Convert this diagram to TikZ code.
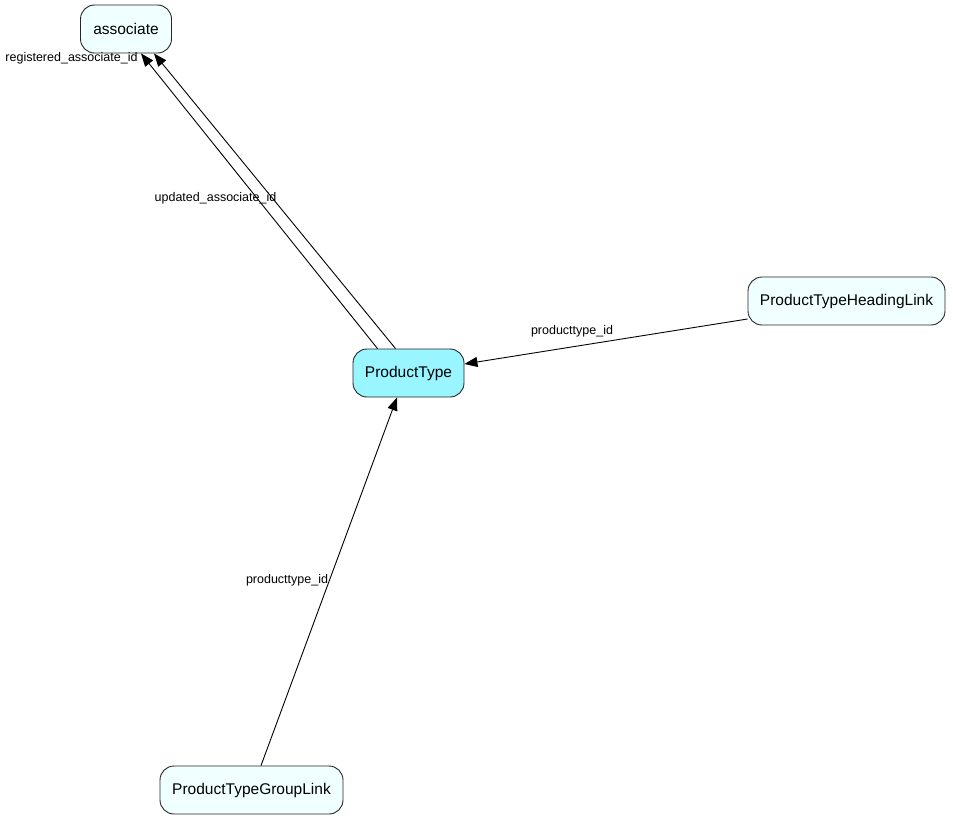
\documentclass[tikz,border=0pt]{standalone}
\usepackage{fontspec}
\setmainfont{Liberation Sans}
\usetikzlibrary{arrows.meta}
\definecolor{entfill}{HTML}{F0FFFF}
\definecolor{mainfill}{HTML}{99F5FF}
\begin{document}
\begin{tikzpicture}[x=1pt,y=-1pt,
  entity/.style={draw=black!85, line width=0.9pt, rounded corners=14pt, fill=entfill,
    minimum height=48pt, inner sep=0pt, font=\fontsize{15.5}{17}\selectfont},
  mainent/.style={entity, fill=mainfill},
  lbl/.style={inner sep=0pt, font=\fontsize{12.5}{14}\selectfont},
  fk/.style={draw=black, line width=0.9pt, -{Triangle[length=13pt,width=10pt]}}]
\useasboundingbox[fill=white] (0,0) rectangle (953,819);
\node[entity, minimum width=91pt] (assoc) at (126,29) {associate};
\node[mainent, minimum width=111pt] (pt) at (408.5,373) {ProductType};
\node[entity, minimum width=197pt] (ptl) at (846.5,301) {ProductTypeHeadingLink};
\node[entity, minimum width=183pt] (ptg) at (251.5,790) {ProductTypeGroupLink};
\draw[fk] ([xshift=-31pt]pt.north) -- ([xshift=15pt]assoc.south);
\draw[fk] ([xshift=-13pt]pt.north) -- ([xshift=28pt]assoc.south);
\draw[fk] ([yshift=-18pt]ptl.west) -- ([yshift=9pt]pt.east);
\draw[fk] ([xshift=9.5pt]ptg.north) -- ([xshift=-11.5pt]pt.south);
\node[lbl] (l1) at (71.5,58) {registered\_associate\_id};
\node[lbl] (l2) at (215.5,198) {updated\_associate\_id};
\node[lbl] (l3) at (572,331) {producttype\_id};
\node[lbl] (l4) at (287,580) {producttype\_id};
\end{tikzpicture}
\end{document}
